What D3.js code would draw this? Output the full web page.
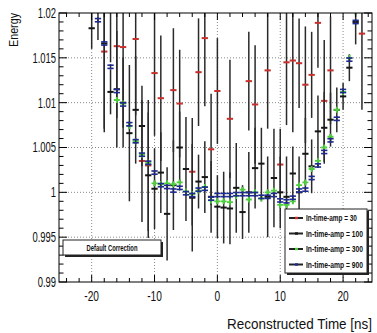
<!DOCTYPE html>
<html>
<head>
<meta charset="utf-8">
<script src="https://cdn.jsdelivr.net/npm/d3@7"></script>
<style>
  body { margin: 0; background: #fff; }
  text { font-family: 'Liberation Sans', Arial, sans-serif; }
</style>
</head>
<body>
<svg id="chart" width="377" height="333"></svg>
<script>
// bin centres [ns]
const times = [-20, -19, -18, -17, -16, -15, -14, -13, -12, -11, -10, -9, -8, -7, -6, -5, -4, -3, -2, -1,
  0, 1, 2, 3, 4, 5, 6, 7, 8, 9, 10, 11, 12, 13, 14, 15, 16, 17, 18, 19, 20, 21, 22, 23]

const amp30 = [null, null, 1.0157, 1.0225, 1.0163, 1.0162, null, 1.0171, 1.0035, 1.0030, 1.0133, 1.0105, null, 1.0114, 1.0099, null, 1.0023, 1.0134, 1.0172, 1.0048,
  1.0113, null, 1.0082, null, null, 1.0124, 1.0098, null, 1.0136, null, 1.0031, 1.0145, 1.0147, 1.0144, 1.0120, 1.0131, 1.0189, 1.0102, 1.0136, null, null, null, null, 1.0177]
const amp30Err = [0, 0, 0.009, 0.008, 0.008, 0.009, 0, 0.0085, 0.0068, 0.0073, 0.007, 0.007, 0, 0.0069, 0.006, 0, 0.006, 0.006, 0.0076, 0.0062,
  0.0059, 0, 0.0066, 0, 0, 0.0055, 0.0066, 0, 0.0065, 0, 0.004, 0.007, 0.008, 0.005, 0.0065, 0.0048, 0.005, 0.0068, 0.006, 0, 0, 0, 0, 0.0085]

const amp100 = [1.0183, 1.0210, 1.0166, 1.0112, 1.0115, 1.0100, 1.0066, 1.0092, 1.0074, 1.0019, 1.0004, 1.0022, 0.9976, 1.0008, 1.0050, 1.0026, 0.9994, 1.0012, 1.0017, 0.9995,
  0.9984, 0.9983, 0.9982, 1.0005, 0.9978, 1.0000, 1.0027, 1.0032, 0.9995, 1.0016, 1.0000, 0.9995, 1.0021, 1.0000, 1.0043, 1.0029, 1.0068, 1.0072, 1.0081, 1.0092, 1.0107, 1.0139, 1.0190, null]
const amp100Err = [0.0023, 0.004, 0.0095, 0.0025, 0.0065, 0.005, 0.0076, 0.006, 0.0045, 0.007, 0.0045, 0.0045, 0.0052, 0.005, 0.004, 0.0058, 0.006, 0.003, 0.004, 0.004,
  0.0035, 0.004, 0.004, 0.005, 0.003, 0.0045, 0.0045, 0.004, 0.0045, 0.0055, 0.004, 0.0045, 0.003, 0.004, 0.004, 0.003, 0.004, 0.004, 0.003, 0.0025, 0.0015, 0.0015, 0.0025, 0]

const amp300 = [null, null, null, null, 1.0103, 1.0099, 1.0074, 1.0057, 1.0042, 1.0033, 1.0010, 1.0009, 1.0010, 1.0009, 1.0011, 1.0001, 0.9998, 1.0002, 1.0006, 0.9991,
  0.9990, 0.9990, 0.9989, 0.9996, 1.0003, 0.9992, 1.0000, 0.9993, 1.0000, 1.0002, 0.9986, 0.9986, 0.9990, 1.0008, 1.0011, 1.0026, 1.0035, 1.0050, 1.0062, 1.0092, 1.0112, 1.0150, 1.0201, null]
const amp300Err = [0, 0, 0, 0, 0.0003, 0.0003, 0.0003, 0.0003, 0.0003, 0.0003, 0.0003, 0.0003, 0.0003, 0.0003, 0.0003, 0.0003, 0.0003, 0.0003, 0.0003, 0.0003,
  0.0003, 0.0003, 0.0003, 0.0003, 0.0003, 0.0003, 0.0003, 0.0003, 0.0003, 0.0003, 0.0003, 0.0003, 0.0003, 0.0003, 0.0003, 0.0003, 0.0003, 0.0003, 0.0003, 0.0003, 0.0003, 0.0003, 0.0003, 0]

const amp900 = [1.0218, 1.0192, 1.0166, 1.0140, 1.0113, 1.0098, 1.0076, 1.0057, 1.0042, 1.0033, 1.0022, 1.0008, 1.0006, 1.0002, 1.0005, 0.9999, 0.9997, 1.0003, 1.0004, 0.9993,
  0.9997, 0.9997, 0.9997, 0.9998, 0.9998, 0.9998, 0.9998, 0.9995, 0.9995, 0.9997, 0.9991, 0.9990, 0.9994, 1.0002, 1.0003, 1.0016, 1.0030, 1.0045, 1.0058, 1.0082, 1.0113, 1.0148, 1.0190, null]
const amp900Err = [0.0003, 0.0003, 0.0003, 0.0003, 0.0003, 0.0003, 0.0003, 0.0003, 0.0003, 0.0003, 0.0003, 0.0003, 0.0003, 0.0003, 0.0003, 0.0003, 0.0003, 0.0003, 0.0003, 0.0003,
  0.0003, 0.0003, 0.0003, 0.0003, 0.0003, 0.0003, 0.0003, 0.0003, 0.0003, 0.0003, 0.0003, 0.0003, 0.0003, 0.0003, 0.0003, 0.0003, 0.0003, 0.0003, 0.0003, 0.0003, 0.0003, 0.0003, 0.0003, 0]

const legendLabels = ['In-time-amp = 30', 'In-time-amp = 100', 'In-time-amp = 300', 'In-time-amp = 900']
const yTicks = [0.99, 0.995, 1, 1.005, 1.01, 1.015, 1.02]
const xTicks = [-20, -10, 0, 10, 20]

const series = [
  { values: amp30, errs: amp30Err, color: '#c9302c', kind: 'dash' },
  { values: amp100, errs: amp100Err, color: '#151515', kind: 'dash' },
  { values: amp300, errs: amp300Err, color: '#4ccf3a', kind: 'cross' },
  { values: amp900, errs: amp900Err, color: '#1d2a94', kind: 'double' },
]

const svg = d3.select('#chart')
const pL = 59, pR = 372, pT = 13, pB = 282

const x = d3.scaleLinear().domain([-25.2, 24.6]).range([pL, pR])
const y = d3.scaleLinear().domain([0.99, 1.02]).range([pB, pT])
const halfBin = x(0.5) - x(0)

// squeeze text horizontally (the reference is a narrowed ROOT canvas)
function squeeze(sel, f) {
  sel.each(function () {
    const ax = +this.getAttribute('x'), ay = +this.getAttribute('y')
    d3.select(this).attr('transform', `translate(${ax},${ay}) scale(${f},1) translate(${-ax},${-ay})`)
  })
}
function fitWidth(sel, target) {
  sel.each(function () {
    const w = this.getComputedTextLength()
    d3.select(this).call(squeeze, target / w)
  })
}

svg.append('clipPath').attr('id', 'plotclip')
  .append('rect').attr('x', pL).attr('y', pT).attr('width', pR - pL).attr('height', pB - pT)

// dotted grid
const grid = svg.append('g').attr('stroke', '#8a8a8a').attr('stroke-width', 1).attr('stroke-dasharray', '1,2')
grid.selectAll('.gx').data(xTicks).enter().append('line')
  .attr('x1', d => x(d)).attr('x2', d => x(d)).attr('y1', pT).attr('y2', pB)
grid.selectAll('.gy').data(yTicks.slice(1, -1)).enter().append('line')
  .attr('x1', pL).attr('x2', pR).attr('y1', d => y(d)).attr('y2', d => y(d))

// points
const plot = svg.append('g').attr('clip-path', 'url(#plotclip)')
series.forEach(s => {
  const pts = times.map((t, i) => ({ t, v: s.values[i], e: s.errs[i] })).filter(d => d.v !== null)
  const g = plot.append('g')
  g.selectAll('.err').data(pts.filter(d => d.e > 0)).enter().append('line')
    .attr('x1', d => x(d.t)).attr('x2', d => x(d.t))
    .attr('y1', d => y(d.v - d.e)).attr('y2', d => y(d.v + d.e))
    .attr('stroke', '#2a2a2a').attr('stroke-width', 1.5)
  if (s.kind === 'double') {
    [-1.6, 1.6].forEach(off => {
      g.selectAll(null).data(pts).enter().append('line')
        .attr('x1', d => x(d.t) - halfBin).attr('x2', d => x(d.t) + halfBin)
        .attr('y1', d => y(d.v) + off).attr('y2', d => y(d.v) + off)
        .attr('stroke', s.color).attr('stroke-width', 1.6)
    })
  } else if (s.kind === 'cross') {
    g.selectAll(null).data(pts).enter().append('path')
      .attr('d', d => `M${x(d.t) - 3},${y(d.v)}h6M${x(d.t)},${y(d.v) - 3}v6`)
      .attr('stroke', s.color).attr('stroke-width', 1.8).attr('fill', 'none')
  } else {
    g.selectAll(null).data(pts).enter().append('line')
      .attr('x1', d => x(d.t) - halfBin).attr('x2', d => x(d.t) + halfBin)
      .attr('y1', d => y(d.v)).attr('y2', d => y(d.v))
      .attr('stroke', s.color).attr('stroke-width', 2)
  }
})

// frame and ticks
svg.append('rect').attr('x', pL).attr('y', pT).attr('width', pR - pL).attr('height', pB - pT)
  .attr('fill', 'none').attr('stroke', '#000').attr('stroke-width', 1)

const yMinor = d3.range(0, 31).map(i => 0.99 + i * 0.001)
const xMinor = [-24, -22, -20, -18, -16, -14, -12, -10, -8, -6, -4, -2, 0, 2, 4, 6, 8, 10, 12, 14, 16, 18, 20, 22, 24]
const ticks = svg.append('g').attr('stroke', '#000').attr('stroke-width', 1)
yMinor.forEach((v, i) => {
  const len = i % 5 === 0 ? 8 : 4.5
  ticks.append('line').attr('x1', pL).attr('x2', pL + len).attr('y1', y(v)).attr('y2', y(v))
  ticks.append('line').attr('x1', pR).attr('x2', pR - len).attr('y1', y(v)).attr('y2', y(v))
})
xMinor.forEach(t => {
  const len = t % 10 === 0 ? 7 : 4
  ticks.append('line').attr('x1', x(t)).attr('x2', x(t)).attr('y1', pB).attr('y2', pB - len)
  ticks.append('line').attr('x1', x(t)).attr('x2', x(t)).attr('y1', pT).attr('y2', pT + len)
})

// tick labels
svg.selectAll('.yl').data(yTicks).enter().append('text')
  .attr('x', pL - 3).attr('y', d => y(d) + 5).attr('text-anchor', 'end')
  .attr('font-size', 15).attr('fill', '#111').text(d => d3.format('')(+d.toFixed(3)))
  .call(squeeze, 0.63)
svg.selectAll('.xl').data(xTicks).enter().append('text')
  .attr('x', d => x(d)).attr('y', 301).attr('text-anchor', 'middle')
  .attr('font-size', 15).attr('fill', '#111').text(d => d)
  .call(squeeze, 0.68)

svg.append('text').attr('x', pR).attr('y', 329).attr('text-anchor', 'end')
  .attr('font-size', 15).attr('fill', '#111').text('Reconstructed Time [ns]')
  .call(fitWidth, 145)

const eTitle = svg.append('text').attr('x', 0).attr('y', 0).attr('text-anchor', 'end')
  .attr('font-size', 13).attr('fill', '#111').text('Energy')
eTitle.attr('transform', `translate(18,${pT}) rotate(-90) scale(${34 / eTitle.node().getComputedTextLength()},1)`)

// default correction box
const dc = svg.append('g')
dc.append('rect').attr('x', 65).attr('y', 242).attr('width', 98).attr('height', 15).attr('fill', '#222')
dc.append('rect').attr('x', 63).attr('y', 240).attr('width', 98).attr('height', 15).attr('fill', '#fff').attr('stroke', '#222')
dc.append('text').attr('x', 112).attr('y', 251).attr('text-anchor', 'middle')
  .attr('font-size', 9).attr('font-weight', 'bold').attr('fill', '#111').text('Default Correction')
  .call(fitWidth, 51)

// legend
const lg = svg.append('g')
lg.append('rect').attr('x', 287).attr('y', 211).attr('width', 82).attr('height', 64).attr('fill', '#222')
lg.append('rect').attr('x', 285).attr('y', 209).attr('width', 82).attr('height', 64).attr('fill', '#fff').attr('stroke', '#222')
legendLabels.forEach((lab, i) => {
  const ly = 218 + i * 15.5
  lg.append('line').attr('x1', 289).attr('x2', 303).attr('y1', ly).attr('y2', ly).attr('stroke', '#222').attr('stroke-width', 2)
  lg.append('rect').attr('x', 295).attr('y', ly - 1.2).attr('width', 3).attr('height', 2.4).attr('fill', series[i].color)
  lg.append('text').attr('x', 306).attr('y', ly + 3.2).attr('font-size', 9).attr('font-weight', 'bold').attr('fill', '#111')
    .text(lab).call(fitWidth, i === 0 ? 51 : 57)
})
</script>
</body>
</html>
